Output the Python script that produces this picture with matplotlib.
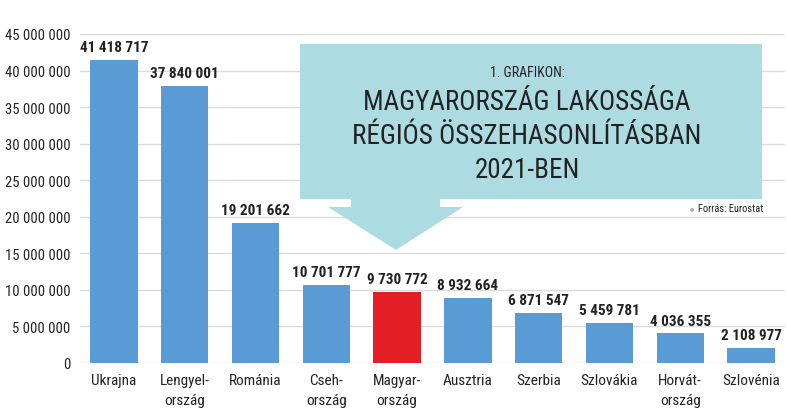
import numpy as np
import matplotlib
matplotlib.use("Agg")
import matplotlib.pyplot as plt
from matplotlib.patches import Polygon
from matplotlib.ticker import FuncFormatter

# population 2021 (Eurostat)
countries = ["Ukrajna", "Lengyel-\nország", "Románia", "Cseh-\nország", "Magyar-\nország",
             "Ausztria", "Szerbia", "Szlovákia", "Horvát-\nország", "Szlovénia"]
population = [41418717, 37840001, 19201662, 10701777, 9730772,
              8932664, 6871547, 5459781, 4036355, 2108977]
highlight = "Magyar-\nország"

plt.rcParams['font.family'] = ['Roboto Condensed', 'Open Sans Condensed', 'DejaVu Sans']

W, H = 787, 414
fig = plt.figure(figsize=(W / 100, H / 100), dpi=100)
ax = fig.add_axes([80 / W, 1 - 364 / H, (785 - 80) / W, (364 - 35) / H])

x = np.arange(len(countries))
colors = ['#e31e24' if c == highlight else '#5b9bd5' for c in countries]
ax.bar(x, population, width=0.67, color=colors, zorder=3)

for xi, v in zip(x, population):
    ax.text(xi, v + 800000, f"{v:,}".replace(",", " "), ha='center', va='bottom',
            fontsize=11, fontweight='bold', color='#222222', zorder=4)

ax.set_xlim(-0.48, 9.48)
ax.set_ylim(0, 45000000)
ax.set_yticks(np.arange(0, 45000001, 5000000))
ax.yaxis.set_major_formatter(FuncFormatter(lambda v, p: f"{int(v):,}".replace(",", " ")))
ax.set_xticks(x)
ax.set_xticklabels(countries, fontsize=11, linespacing=1.6, va='top')
ax.tick_params(axis='y', labelsize=10.5, length=0, pad=7, labelcolor='#222222')
ax.tick_params(axis='x', length=0, pad=7, labelcolor='#222222')
ax.grid(axis='y', color='#dcdcdc', linewidth=1, zorder=0)
for s in ax.spines.values():
    s.set_visible(False)

# callout box with arrow (pixel coords -> figure fraction)
def fp(px, py):
    return (px / W, 1 - py / H)

box_col = '#acdbe2'
pts = [fp(300, 45), fp(762, 45), fp(762, 200), fp(440, 200), fp(440, 208), fp(463, 208),
       fp(396, 251), fp(328, 208), fp(351, 208), fp(351, 200), fp(300, 200)]
fig.add_artist(Polygon(pts, closed=True, transform=fig.transFigure,
                       facecolor=box_col, edgecolor='none', zorder=5))

cx = 527 / W
fig.text(cx, 1 - 73 / H, "1. GRAFIKON:", ha='center', va='center', fontsize=10,
         color='#222222', zorder=6)
fig.text(cx, 1 - 103 / H, "MAGYARORSZÁG LAKOSSÁGA", ha='center', va='center', fontsize=19.5,
         color='#222222', zorder=6)
fig.text(cx, 1 - 137 / H, "RÉGIÓS ÖSSZEHASONLÍTÁSBAN", ha='center', va='center', fontsize=19.5,
         color='#222222', zorder=6)
fig.text(cx, 1 - 170 / H, "2021-BEN", ha='center', va='center', fontsize=19.5,
         color='#222222', zorder=6)
fig.text(763 / W, 1 - 209 / H, "Forrás: Eurostat", ha='right', va='center', fontsize=7.5,
         color='#222222', zorder=6)
fig.text(692 / W, 1 - 209 / H, "●", ha='center', va='center', fontsize=3.5,
         color='#aaaaaa', zorder=6, family='DejaVu Sans')

fig.savefig("out.png", dpi=100)
